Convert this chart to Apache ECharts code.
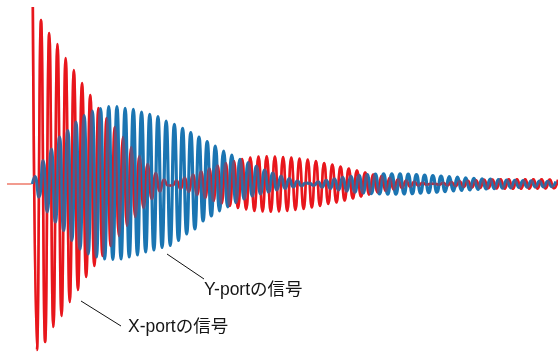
<!DOCTYPE html>
<html>
<head>
<meta charset="utf-8">
<script src="https://cdn.jsdelivr.net/npm/echarts@6/dist/echarts.min.js"></script>
<style>
  html, body { margin: 0; padding: 0; background: #fff; }
  #chart { width: 558px; height: 352px; }
</style>
</head>
<body>
<div id="chart"></div>
<script>
// Successive extremes (peak, trough, peak, ...) of each port signal, one per half cycle.
const xPortPeaks = [
  177, -166, 164, -158, 151, -143, 140, -132, 126, -118,
  114, -106, 101, -93, 89, -82, 76, -72, 66, -62,
  57, -52, 47, -42, 37, -33, 28, -24, 20, -15,
  11, -7.5, 4.5, -1.5, -1.5, 3.5, -5, 6.5, -8, 9.5,
  -11, 12.5, -14, 15.5, -17, 18.5, -19.5, 21, -22, 23,
  -24, 25, -25.5, 26.5, -27, 27.5, -27.5, 27.8, -27.8, 27.5,
  -27.5, 27, -27, 26.5, -26, 25.5, -25, 24.5, -23.5, 23,
  -22, 21, -20, 19.5, -18.5, 17.5, -16.5, 15.5, -14.5, 13.5,
  -12.5, 11.5, -10.5, 9.5, -8.5, 8, -7, 6.2, -5.5, 4.8,
  -4, 3.4, -2.8, 2.2, -1.6, 1.1, -0.6, 0.2, 0.3, -0.7,
  1.1, -1.5, 1.9, -2.2, 2.6, -2.9, 3.2, -3.5, 3.7, -3.9,
  4.1, -4.3, 4.4, -4.5, 4.6, -4.7, 4.7, -4.8, 4.8, -4.8,
  4.8, -4.7, 4.7, -4.6, 4.6, -4.5, 4.4, -4.3, 4.2
];

const yPortPeaks = [
  7.5, -13, 23.5, -28, 35, -38, 47, -46.5, 53.5, -56.5,
  62, -65, 68.5, -70, 73, -73, 75.5, -75, 77.3, -75.5,
  77.3, -75, 75.7, -73, 74.7, -71, 72, -68, 69.7, -66,
  67.3, -63.5, 63, -61.5, 59.7, -56.5, 55.7, -50, 51.3, -45,
  47, -37, 42.3, -32, 38, -27, 33, -23, 29, -18.5,
  24.7, -15, 21.3, -12, 18, -10, 14, -8, 11, -6,
  8, -4.5, 5.5, -3, 3, -1.8, 1, 0.6, -1.5, 2.2,
  -3, 3.7, -4.5, 5.2, -6, 6.6, -7.2, 7.7, -8.2, 8.6,
  -9, 9.3, -9.6, 9.8, -10, 10.1, -10.2, 10.2, -10.2, 10.1,
  -10, 9.9, -9.7, 9.5, -9.2, 9, -8.7, 8.5, -8.2, 7.9,
  -7.6, 7.3, -7, 6.8, -6.5, 6.2, -6, 5.7, -5.5, 5.2,
  -5, 4.8, -4.6, 4.4, -4.2, 4, -3.8, 3.7, -3.5, 3.4,
  -3.2, 3.1, -3, 2.9, -2.8, 2.7, -2.6, 2.5
];

// Quiet trace before the excitation (time in half cycles).
const leadInTimes = [-6.3, -0.3];

// Y-port lags the X-port by a quarter cycle.
const yPortLag = 0.5;

const labels = ['X-portの信号', 'Y-portの信号'];

const xPortData = xPortPeaks.map((v, k) => [k, v]);
const yPortData = [[-0.1, 0]].concat(yPortPeaks.map((v, k) => [k + yPortLag, v]));
const leadInData = leadInTimes.map(t => [t, 0]);

const chart = echarts.init(document.getElementById('chart'), null, { renderer: 'canvas' });

const textFont = '"Liberation Sans", Arial, "Noto Sans CJK JP", sans-serif';
const red = '#e8161c';
const blue = '#1b75b2';

chart.setOption({
  animation: false,
  backgroundColor: '#ffffff',
  grid: { left: 0, right: 0, top: 4, bottom: 0 },
  xAxis: { type: 'value', min: -8, max: 128, show: false },
  yAxis: { type: 'value', min: -168, max: 180, show: false },
  series: [
    {
      type: 'line', data: leadInData, symbol: 'none',
      lineStyle: { color: '#ee7a6a', width: 1.5 }
    },
    {
      name: labels[0], type: 'line', data: xPortData, symbol: 'none', smooth: 0.5,
      lineStyle: { color: red, width: 2.6 }
    },
    {
      name: labels[1], type: 'line', data: yPortData, symbol: 'none', smooth: 0.5,
      lineStyle: { color: blue, width: 3.2 }
    },
    {
      // faint pass of the X-port trace over the Y-port, so crossings blend
      type: 'line', data: xPortData, symbol: 'none', smooth: 0.5, silent: true,
      lineStyle: { color: red, width: 2.6, opacity: 0.35 }
    }
  ],
  graphic: [
    { type: 'line', shape: { x1: 167, y1: 254, x2: 204, y2: 279 }, style: { stroke: '#111', lineWidth: 1 } },
    { type: 'line', shape: { x1: 81, y1: 301, x2: 121, y2: 326 }, style: { stroke: '#111', lineWidth: 1 } },
    { type: 'text', left: 204, top: 281, style: { text: labels[1], font: '17.5px ' + textFont, fill: '#151515' } },
    { type: 'text', left: 128, top: 318, style: { text: labels[0], font: '17.5px ' + textFont, fill: '#151515' } }
  ]
});
</script>
</body>
</html>
